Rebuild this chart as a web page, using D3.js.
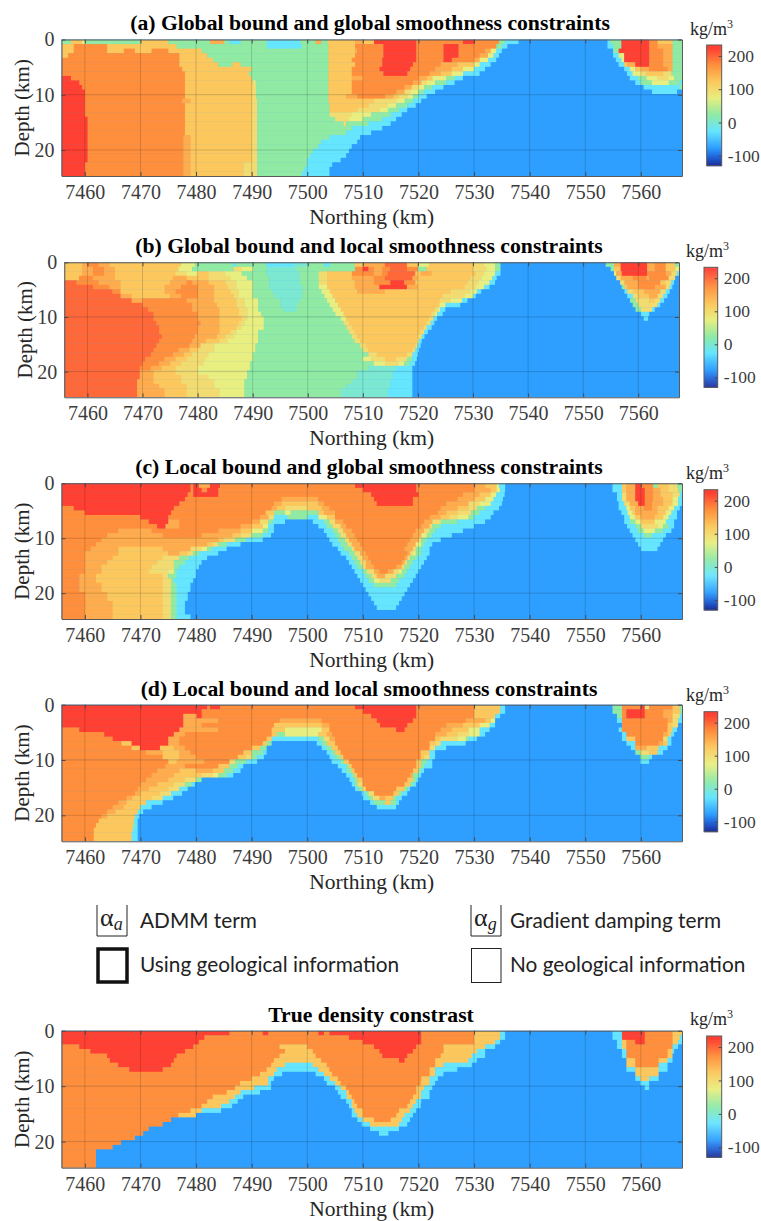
<!DOCTYPE html>
<html>
<head>
<meta charset="utf-8">
<script src="https://cdn.jsdelivr.net/npm/d3@7"></script>
<style>
  html, body { margin: 0; background: #fff; }
  svg { display: block; }
  text { font-family: "Liberation Serif", serif; }
</style>
</head>
<body>
<div id="chart"></div>
<script>
// tick labels
const northingTicks = [7460, 7470, 7480, 7490, 7500, 7510, 7520, 7530, 7540, 7550, 7560];
const depthTicks = [0, 10, 20];
const barTicks = [-100, 0, 100, 200];

// density contrast (kg/m3) of each letter used in the rows below
const levelCodes = ["A", "B", "C", "D", "E", "F", "G", "H", "I", "J", "K", "L", "M"];
const levelValues = [-75, -50, -25, 0, 25, 50, 75, 100, 125, 150, 175, 200, 225];

// one string per depth row, top to bottom: letter + northing (minus 7400) where that value ends
const rowsA = [
  "E57.5 I59.5 G60 E70 I75 E82.5 J85 E86 C88 E92.7 C98.7 E101.5 J102.5 E103.7 I108.6 J110 I112 M119.6 K128 M130 K134.5 E135.5 C138 A154 C154.5 E156.5 M161.5 K163 I165.7 E168",
  "I58 K64 I76.5 E92.7 C99 E103.8 I108.6 K113.7 M119.6 K124.5 M127.2 K134 E135 C136 A154 C155 E156.5 M161.5 K163 J165.7 E168",
  "I58 K64 I67 K69 I72 K75 I81 E103.8 I108.6 J109 K113.7 M119.6 K124.5 M127.2 K132 J133 G134 C135 A155 E156 M161.5 K164 J165.7 E168",
  "I57 K77 I82 E103.8 I108.6 K113.7 M119.6 K124.5 M127.2 K131 J132.5 G133.5 C134.5 A155 C156 G157 M161.5 K164 J165.7 E168",
  "K77 I83 E103.8 I108 K113.5 M119.6 K124.5 M126 K130 J131 G132.5 C134 A155.5 C156.5 G157 M161.5 K164 J165.7 E168",
  "K77 I84 E86.5 I88 E103.8 I108.6 K113.5 M119 K124 J127 I130 G131 C133 A156 C157 I157.5 J159 M161.5 K164 J165.7 E168",
  "K77.5 I90 E103.8 I108 K113 M118.5 K123 J126 I128 G130 C132 A157 C158 G159 I160 J161.5 K164.8 J165.7 E168",
  "K78 I89.5 E103.8 I108 K113.7 M118 K122 J124 I126 G128 C131 A157.5 C158.5 G160 H161 I164 H165.5 E168",
  "M57.5 K78 I90 E103.8 I108 J110 K120 J121.5 I122.5 G125 E126.5 C128 A158 C159.5 E161 G163 H165 G166 E168",
  "M59 K78 I90.3 G90.7 E103.8 I108 K119 J120.5 H121.5 G123 E125 C126.5 A159 C160 E162 G165 E167 C168",
  "M59.5 K78 I90 H90.8 E103.8 I108 K117.5 J118.8 H120 G121 E122.5 C124.5 A160.5 C167 E168",
  "M60 K78 I90 H90.8 E103.8 I108 K116 J117.5 H118.5 G120 E121 C123 A162 C166.5 A168",
  "M60 K78 I90 H90.8 E103.8 I107 J109 K114 J115.5 I116.5 H118 G119 E120 C121.5 A168",
  "M60 K77.5 J79 I90 H91 E103.8 I112 H116 G117.5 E119 C120.5 A168",
  "M60 K78 I90 H91 E104 I111 H114.5 G116 E118 C119.5 A168",
  "M60 K78 I90 H91 E104 I109 H113 G114.5 E116.5 C118 A168",
  "M60 K78 I90 H91 E104 H108 G111.5 E115 C117 A168",
  "M60.5 K78 I90 H91 E105 H107.5 G110 E113.5 C116 A168",
  "M60.5 K78 I90 H91 E106.5 H107 E111 C115 A168",
  "M60.5 K78 I90 H91 E108 C113.5 A168",
  "M60.5 K78 I90 H91 E107 C111.5 A168",
  "M60.5 K77.7 J79 I90 H91 E104 C109.5 A168",
  "M60.5 K77.7 J79 I90 H91 E102.5 C109 A168",
  "M60.5 K77.7 J79 I90 H91 E102 C108 A168",
  "M60.5 K77.7 J79 I90 H91 E101 C107.5 A168",
  "M60.5 K77.7 J79 I90 H91 E100.5 C107 A168",
  "M60.5 K77.7 J79 I90 H91 E100 C106 A168",
  "M60 K77.7 J79 I88.5 H91 E100 C104.5 A168",
  "M60 K77.7 J79 I88.5 H91 E99.5 C104 A168",
  "M60 K77.7 J79 I88.5 H91 E99 C104 A168"
];

const rowsB = [
  "I59 J60 K62 J64 I77 G79.5 E86.5 C87 E92.5 C97.5 D100 E103 C104 E108.5 I110 J114 L118 I120 G122 I130 H132 G134 E135 A154.1 E155.6 J156.8 M161.6 J163 K165 I166.7 E168",
  "I59 J61 K63 J65 I76.5 G79 E86.5 H88 G90 E92.5 D98 E108.6 K110 M111 K112 J113.5 K115 L118 K120 E121.5 I130 H132.5 G134 E135 A155 E155.6 I156.8 M161.6 J163 K165 I166.7 G168",
  "I59 J61 K63 J65 I76 H78 G80 I82 H85 G88 E92.5 D98.5 E102 H103.5 I108 K112 J113.5 K114.5 L119.5 I120.5 J122.5 I130.5 H132 G134 C135 A155.6 G156 J157 M161.6 K165 J166 H167 C168",
  "I58.5 K61 J65 I75.5 J78 I82 H86 G89 E93 D98.5 E102 H103.5 I108 J112 K114 L119 J120 I129.5 H131.5 G133.5 C134.3 A156 H156.8 J159 K161.5 J162 K165.5 H166.7 A168",
  "L58 K62 J66 I75 J78 K79 J82 I85 H87 G90 E93 D98.5 E102 H103.5 I108.5 J112 K115 M117.5 K119.5 I129 H131 G133 C134 A156.7 H157.5 J160 K164 I165 H166 C166.5 A168",
  "L61 K64 J66 I74 J77 K80 J83 I85.5 H87 G90 E93 D99 E102 G103.5 I108.5 J113 M118 J120 I128.5 H130.5 G132 C133 A157 E157.5 I158 J160 K163 J165 H165.7 C166.2 A168",
  "L64.5 K66 I74 J76 K80 J83 I86 H87.5 G90 E93.5 D99 E102.5 G104 I109 J114 I126 H129.5 G130.7 C131.5 A157.5 C158 H159 I161 J164 H165 C165.7 A168",
  "L66 J68 I75 J77 K80 J83 I86.5 H87.5 G90 E94 D99 E103 G104.5 I124.5 H128.5 G130 C130.5 A158 C159 H160 I162 J163.5 H164.5 C165.3 A168",
  "L68 J70 K78 J83 I87 H88.5 G91 E95 D98.5 E103.5 G105 I124 H126 G128 C129 A158.5 E159.5 H162 I163 H164 C164.7 A168",
  "L70 K79 J83.5 I87 H88.5 G91 E95 D98 E104 G105.5 I123.7 H124 G125 C127.7 A159 E160 H163.5 C164 A168",
  "L71 K79 J84 I87.5 H89 G91 E95.5 D98 E104.5 G106 I123 H123.5 G124 C125 A159.5 E160.5 H162.5 C163 A168",
  "L72 K80 J84 I87.5 H89 G91.5 E105 G106.5 I122.5 H123 G123.5 C124.5 A160.5 C162 A168",
  "L72 K80 J84 I88 H89 G92 E106 G107 I122 H122.8 C123.5 A161 C161.8 A168",
  "L72.5 K80.5 J84 I87.5 H88.5 G92 E106.5 H107.5 I121.5 H122.3 C123 A168",
  "L73 K80 J84 I87 H88 G92 E107 H108 I121 H121.6 C122.5 A168",
  "L73 K80 J84 I86 H87 G91 E107.5 H108.5 I120.5 H121.1 C121.8 A168",
  "L73.5 K79.5 J83.5 I85 H86.5 G91 E108 H109 I120 H120.7 C121.2 A168",
  "L73 K79 J81.5 I84 H85.5 G91 E108.5 H109.5 I119.8 H120.2 C120.7 A168",
  "L72.5 K78.5 J80.5 H83 G90.5 E109.5 H110.5 I119.5 H119.9 C120.5 A168",
  "L72 K76.5 J78.5 I80 H83 G90.5 E110 H111 I119 H119.5 C120.2 A168",
  "L71.5 K75.5 J77.5 I79 H82 G90 E111 H112.5 I118 H119 C120 A168",
  "L70.5 K74 J76 I78 H81.5 G90 E110 G111.5 H114 I116 H118 E119 C119.8 A168",
  "L70 K73 J75 I77 H81 G89.5 E112 G114 H116.5 G117.5 E118.5 C119.5 A168",
  "L69.5 K71.5 J73.5 I76 H80 G89.5 E111 D116 C119 A168",
  "L69.5 J72 I76 H80 G89 E109 D115.5 C119 A168",
  "L69.5 J72 I77 H82 G89 E109 D115.5 C119 A168",
  "L69 J72 I77 H83 G88.5 E108 D115 C119 A168",
  "L69 J73 I78 H83 G88.5 E107 D115 C119 A168",
  "L69 J74 I78 H84 G88.5 E106 D114.5 C119 A168",
  "L69 J74 I78 H84 G88.5 E106 D114.5 C119 A168"
];

const rowsC = [
  "M79 K79.5 M80.5 J82.5 M84.3 K108.6 M119.6 K130 J132 I134 G134.5 C135.6 A154.9 C156.6 I157.4 J159 M160 K162.2 E163 I165 H166.5 E168",
  "M79 K79.5 M81 K82 M84 K110 M119.6 K130 J133 I134 G134.7 C135.6 A154.9 C156.6 I157.4 J159 M160.7 K162.2 J163.5 I165 H166.7 E168",
  "M78.5 K79.5 M84 K111.5 M120 K128 J131 I133 G134 C135.5 A155.7 C156.6 H157.4 J159 M160.7 K162.2 J163.5 I165.7 H167 C168",
  "M78 K95.4 J102 K112 M119 K127 J130 I132 G133.5 C135.2 A155.7 C156.6 H157.4 J159 M160.7 K162.2 J164 I165.7 G166.7 C168",
  "M77 K94 J95.4 I102 J103 K112.5 M119 K125 J129 H131 G133 C135 A156 C157 H158 J159.5 M160.7 K162 J164 I165.7 G166.7 C168",
  "K58 M76 K93.6 J94.5 I96 H100 I102.6 J104 K124 J127 I129 H130.5 E132 C134.5 A156 C157.4 G158 I159 J160.5 K162 J163 I165 G166 C167 A168",
  "K60 M75.5 K92.5 I94 E96 G97 E102 I103 J105 K123.5 J125 I127 H129.5 E131 C133.5 A156.5 C157.6 G158.5 I159 J163 I164.5 G165.5 C166.5 A168",
  "K70 M75 K91.5 J93 H94 C96.5 E100 C102 G103.5 I105 K122 J124 I125.5 H127 G129 E130 C133 A157 C158 G159 I160 J162.5 I164 G165 C166.5 A168",
  "K71.5 M75 J77 K90 J91.5 H93 E93.8 C96 A101 C103 E104 H105 J106.5 K121 J122.5 H124 E127 C132 A157 C158 E159 G160 I162.5 G164.5 C166 A168",
  "K73 M74.5 J77 K88 J90 I92 G93 C94 A102 C103.5 E104.5 H106 J107 K120.5 J122 H122.5 E124 C130 A157.5 C159 E160 H163 G164 E165 C166 A168",
  "K66 J72 K84 J88 I90 G92 E93 C94 A103 C104.5 E105.5 H106.5 J108 K119.5 J121 H122 E123 C128 A158 C159.5 E160.5 G162.5 E164 C165.5 A168",
  "K64 J74 K81 J86.5 I88 H90 E92 C93.5 A103.5 C105 E106 H107 J108.5 K119 J120.5 G121.5 E122.5 C126 A158.5 C160.5 E162 C164.5 A168",
  "K63 J78 J84 I85 H87 E89 C92 A104 C105.5 E106.8 H107.5 J109 K118.5 J120 H120.5 E121.5 C124 A159 C164 A168",
  "K62 J80 J82 I83 H84 E85.5 C88 A104.5 C106 E107.2 H108 J109.5 K118 J119.5 G120.5 E121 C122.5 A159.5 C163.5 A168",
  "K61 J66 I74 J79 H81 G82 E82.8 C85.5 A105.5 C106.5 E108 H108.5 J110 K117.5 J119 H119.5 E120.5 C122 A160 C163 A168",
  "K60 J66 I75 J77 I78.5 H79.5 E80.5 C84 A106 C107.5 E108.5 H109.5 J110.5 K118 J118.5 H119 G119.5 E120.5 C122 A168",
  "K60 J65 I74 H77 E78.8 C82 A107 C108 E109 H110 J111 K117.5 J118 H118.5 E119.7 C121.5 A168",
  "K60 J64 I73 H76 E78 C81 A107.5 C108.5 E109.5 H110.5 J111.5 K117 J117.5 H118 E119 C121 A168",
  "K60 J63 I72 H76 E77 C80.5 A108 C109 E110 H110.5 J112 K116 J117 H117.5 E118.5 C120.5 A168",
  "K60 J63 I71.5 H75 G76 E76.5 C80 A108.5 C110 E110.7 H112 J113 K114.5 J115.5 H116.5 G117 E118 C120 A168",
  "K59 J62 I74 H75 E76.5 C80 A109 C110.5 E111.5 H112.5 J114 H116 E117.5 C119.5 A168",
  "K59 J62 I74 H75.5 E76 C79.5 A109.5 C111 E112 G113 H115 E116.5 C119 A168",
  "K59 J63 I74 H75.5 E76.5 C79 A110 C112 E116 C118.5 A168",
  "K59 J63 I74 H75.5 E76.5 C79 A110.5 C118 A168",
  "K60 J64 I74 H75.5 E76.5 C78.5 A111 C117.5 A168",
  "K60 J64 I74 H75.5 E76.5 C78.5 A111.5 C117 A168",
  "K60 J65 I74 H75.5 E76.5 C78 A112 C116.5 A168",
  "K60 J65 I74 H75.5 E76.5 C78 A112.5 C116 A168",
  "K60 J65 I74 H75.5 E76.5 C78 A168",
  "K60 J65 I74 H75.5 E76.5 C79 A168"
];

const rowsD = [
  "M82 K82.5 M84.3 K108.6 M119.6 K130 I134.7 C135.6 A154.9 E156.6 K159.9 M160.7 H161.5 K165.7 I167 E168",
  "M81 K110 M119.6 K130 I134.7 C135.6 A154.9 E156.6 K157.4 M160.7 K164 J165.7 I167 E168",
  "M77.7 J80.1 M81 K111.5 M119.6 K130 I133.8 C134.7 A155.7 E156.6 K157.4 M160.7 K164 J165.7 H167 C168",
  "M77.7 J84 K95 J102.6 K112.5 M119 K128.5 J132 I133 G133.8 A155.7 C156.6 K164.8 J165.7 H166.7 C167.5 A168",
  "M77.7 J81 K94 I102.6 J104 K113.1 M118 K125 J128 I131 G132.8 C133.8 A156.6 K164.8 I165.7 H166.7 A168",
  "K59 M77 J84 K93.6 I96 G102.6 I104 K116 M117.5 K124 J126 I129 G131 C132.8 A156 C156.6 K164.8 I165.7 C166.5 A168",
  "K63.5 M76 J78 K93.6 I94.5 E96 G102 I103.5 J104.5 K123 J125 I127 H129 G131 C132 A156.6 C157.4 K164 J164.8 I165.4 C166 A168",
  "K65 M75 J77 K92.7 I93.6 C102 E103 H104 J105 K123 I124 H127 G128.5 E129 C130.5 A156.6 C157.4 I159 K164 H164.8 C165.5 A168",
  "K66.6 I68.4 M75 J77 K92 I92.7 E93.6 A101.7 C102.6 E103.5 I105 K122 I123 H124 C128.5 A157.4 C159 K163.2 J164 I164.8 C165.5 A168",
  "K68.4 I69.9 M73.5 I76 J78 K90 I91.5 E92.7 A102.6 C103.5 E104.4 I105.5 K122 H123 C125 A158.2 C159 J161 I163.2 C164.8 A168",
  "K71 J74 I77 J79 K88.5 I90 E92 C92.7 A103.5 C104.4 E105 I106 K120.4 I122 C123 A159 E159.9 H161.5 I163 C164 A168",
  "K74 I77 J80 K87.5 I89 H90 E91 C92.2 A104 C105 E106 I106.5 K120.4 I121 H122 C123 A159.9 E161.5 C162 A168",
  "K75 I76.5 J81.5 K86 H87 E89 C91 A104.4 C106 E106.6 I107.5 K119.6 I120.5 E121.5 C122.5 A159.9 C161.5 A168",
  "K74.5 J78 K84 I86 E87.5 C88.5 A105.5 C107 E107.5 I108 K119.6 I120.4 E121 C122.5 A168",
  "K73 J77 I80 J83 I85 E86.7 C88 A106.2 C107.1 E108 I108.5 K119 I120 E120.4 C121 A168",
  "K72 J76 I81 H83 G84 E85.5 C86.7 A107 C108 E108.5 I109 K118.5 J119 E120 C120.5 A168",
  "K71 J75 I78 H80 E81 A107.6 C108.4 E109 I110 K118 I119 E119.6 C120 A168",
  "K70 J73 I76 H78 E79.2 C79.8 A108 C108.6 E109 H110 K117.5 I118.5 E119 C119.6 A168",
  "K69.5 J71.5 I75 H77 C78.5 A108.6 C109.2 E109.8 H110.5 K116 I117.5 E118 C118.5 A168",
  "K69 J70 I73.5 H75.5 C77.5 A109.8 C110.5 E111 H112 K115.5 I116.5 E117 C118 A168",
  "K67.5 J68.5 I72 H74 C75.9 A110 C111 E111.8 H113 J114 I115.5 E116 C117 A168",
  "K66 J67.5 I71 C74 A111.3 C112 E114 I115 E116 C116.5 A168",
  "K65 J67 I70 C72 A112.5 C116 A168",
  "K64 J65.5 I69.5 C70.5 A168",
  "K63 J64 I69 C69.8 A168",
  "K62.5 I68.8 C69.5 A168",
  "K62 I68.6 E69 C69.5 A168",
  "K61.6 I68.6 C69.5 A168",
  "K61.6 I68.4 C69.5 A168",
  "K61.6 I68.4 C69.5 A168"
];

const rowsTrue = [
  "M86 K92 M93 K102 M103 K104 M120.5 K130 I134.7 C135.6 A154.9 C156.6 M160.7 K165.7 I168",
  "M81.5 K107.5 M120.5 K130 I134.7 C135.6 A154.9 C156.6 M160.7 K165.7 I167 C168",
  "M80.5 K110 M120.5 K130 I133.8 C134.7 A155.7 C156.6 I157.4 K159 M160.7 K165.7 I166.7 C167.5 A168",
  "K59 M79.5 K95 I100 K112 M119.6 K124.5 I132 C133.8 A155.7 C156.6 I157.4 K165.7 C166.7 A168",
  "K61 M78 K96 I101 K113 M119 K124.5 I130.5 C132 A156.6 C157.4 K164.8 I165.7 C166 A168",
  "K64 M76.5 K95 I101.5 K113.5 M118 K124 I129.6 C132 A156.6 C157.4 K164.8 I165.7 A168",
  "K64.5 M76 K94 I102.5 K116.5 M117.5 K123 I129 C130.5 A157.4 I159 K163.2 I164.8 C165.7 A168",
  "K66 M75.5 K93.5 I96 C101 I103.5 K123 I124.5 C129.6 A157.4 I159 K163.2 C164.8 A168",
  "K68 M74 K92.7 I94.5 C102 I104 K122 I123 C127 A157.4 C159 I163.2 C164.8 A168",
  "K91.5 I94 C95.5 A101.5 C103 I104.5 K122 I123 C124.5 A159 I163.2 A168",
  "K90 I93 C94 A103 C104 I105.5 K120.5 I122 C123.5 A159 C159.9 I161.5 C163.2 A168",
  "K87.9 I93 C93.5 A103.5 C105 I106 K120.4 I122 C123 A159.9 C161.5 A168",
  "K87 I90.5 C93.5 A105 C106 I107 K119.6 I121 C122.5 A160.7 C161.5 A168",
  "K85.5 I88 C91.5 A105.5 C107 I107.5 K119.6 I120.5 C122 A168",
  "K83 I87 C88.5 A106 C107.1 I108 K119 I120.4 C122 A168",
  "K82 I86 C87.5 A107 C108 I108.5 K118.5 I119.6 C120.5 A168",
  "K81 I84.5 C86.5 A107.5 C108 I109 K118 I119 C120.4 A168",
  "K79 I81 C84.5 A108 C108.5 I110 K116.5 I118.5 C119.6 A168",
  "K76.8 I80 A108 C109 I110 K116 I117.5 C119 A168",
  "K75.5 A109 C110 I112 K115 I117 C118.5 A168",
  "K74 A109.8 C111.3 I116.5 C118 A168",
  "K71.5 A111.3 C116.5 A168",
  "K70.5 A112.9 C114.6 A168",
  "K69 A168",
  "K66.5 A168",
  "K65 A168",
  "K62 A168",
  "K62 A168",
  "K62 A168",
  "K62 A168"
];

const titles = [
  "(a) Global bound and global smoothness constraints",
  "(b) Global bound and local smoothness constraints",
  "(c) Local bound and global smoothness constraints",
  "(d) Local bound and local smoothness constraints",
  "True density constrast"
];
const panelRows = [rowsA, rowsB, rowsC, rowsD, rowsTrue];

// layout of the five panels
const layout = [
  { left: 61.5, right: 682, top: 39.5, bottom: 176, titleY: 30, titleX: 370, depthX: 29, barL: 706.7, barR: 721.7, barT: 45, barB: 165.7, unitX: 690, unitY: 35 },
  { left: 64.3, right: 679, top: 262.3, bottom: 397.3, titleY: 253, titleX: 369, depthX: 31.5, barL: 704, barR: 717.7, barT: 267.3, barB: 387.3, unitX: 686, unitY: 257 },
  { left: 61.5, right: 682, top: 483.3, bottom: 619, titleY: 474, titleX: 369, depthX: 29, barL: 704, barR: 717.7, barT: 489.7, barB: 610, unitX: 686, unitY: 479 },
  { left: 61.5, right: 682, top: 704.7, bottom: 841.3, titleY: 696, titleX: 369, depthX: 29, barL: 704, barR: 717.7, barT: 711.7, barB: 831.7, unitX: 686, unitY: 701 },
  { left: 61.5, right: 682, top: 1030.7, bottom: 1167.7, titleY: 1022, titleX: 371, depthX: 29, barL: 706.7, barR: 721.7, barT: 1036, barB: 1157.3, unitX: 690, unitY: 1025 }
];

const northingDomain = [7455.8, 7567.4];
const depthMax = 24.7;
const barDomain = [-130, 233];

const color = d3.scaleLinear()
  .domain([-130, -100, -75, -25, 25, 75, 125, 175, 225])
  .range(["#1b2a96", "#2168dc", "#2e9fff", "#66e5ff", "#90eaa4", "#e8ee80", "#fcc85d", "#ff8f3c", "#ff4033"])
  .clamp(true);

const levelOf = new Map(levelCodes.map((c, i) => [c, levelValues[i]]));

const svg = d3.select("#chart").append("svg").attr("width", 761).attr("height", 1221);
const defs = svg.append("defs");
defs.append("filter").attr("id", "soft")
  .attr("x", "-2%").attr("y", "-2%").attr("width", "104%").attr("height", "104%")
  .append("feGaussianBlur").attr("stdDeviation", 0.55);

function parseRows(rows) {
  const runs = [];
  rows.forEach((row, i) => {
    let start = northingDomain[0];
    row.split(" ").forEach(tok => {
      const end = 7400 + (+tok.slice(1));
      runs.push({ row: i, x0: start, x1: end, value: levelOf.get(tok[0]) });
      start = end;
    });
  });
  return runs;
}

layout.forEach((p, idx) => {
  const x = d3.scaleLinear().domain(northingDomain).range([p.left, p.right]).clamp(true);
  const y = d3.scaleLinear().domain([0, depthMax]).range([p.top, p.bottom]);
  const rowKm = depthMax / panelRows[idx].length;
  const g = svg.append("g");

  defs.append("clipPath").attr("id", "clip" + idx).append("rect")
    .attr("x", p.left).attr("y", p.top)
    .attr("width", p.right - p.left).attr("height", p.bottom - p.top);

  // heat map cells
  g.append("rect")
    .attr("x", p.left).attr("y", p.top)
    .attr("width", p.right - p.left).attr("height", p.bottom - p.top)
    .attr("fill", "#2e9fff");
  g.append("g").attr("clip-path", `url(#clip${idx})`)
    .append("g").attr("filter", "url(#soft)")
    .selectAll("rect")
    .data(parseRows(panelRows[idx]))
    .join("rect")
    .attr("x", d => x(d.x0))
    .attr("y", d => y(d.row * rowKm))
    .attr("width", d => x(d.x1) - x(d.x0) + 0.4)
    .attr("height", y(rowKm) - y(0) + 0.4)
    .attr("fill", d => color(d.value));

  // grid
  const grid = g.append("g").attr("class", "grid");
  grid.selectAll(".gx").data(northingTicks).join("line").attr("class", "gx")
    .attr("x1", d => x(d)).attr("x2", d => x(d)).attr("y1", p.top).attr("y2", p.bottom);
  grid.selectAll(".gy").data(depthTicks.slice(1)).join("line").attr("class", "gy")
    .attr("x1", p.left).attr("x2", p.right).attr("y1", d => y(d)).attr("y2", d => y(d));
  grid.selectAll("line").attr("stroke", "#000").attr("stroke-opacity", 0.16).attr("stroke-width", 1);

  // axes, MATLAB box style with inward ticks
  const tickStyle = sel => {
    sel.select(".domain").attr("stroke", "#5a5a5a").attr("stroke-width", 1);
    sel.selectAll(".tick line").attr("stroke", "#4a4a4a");
  };
  g.append("g").attr("transform", `translate(0,${p.bottom})`)
    .call(d3.axisBottom(x).tickValues(northingTicks).tickFormat(d3.format("d")).tickSizeInner(-4).tickSizeOuter(0).tickPadding(9))
    .call(tickStyle)
    .call(a => a.selectAll("text").attr("font-size", 20).attr("fill", "#3c3c3c").attr("font-family", "Liberation Serif"));
  g.append("g").attr("transform", `translate(0,${p.top})`)
    .call(d3.axisTop(x).tickValues(northingTicks).tickFormat("").tickSizeInner(-4).tickSizeOuter(0))
    .call(tickStyle);
  g.append("g").attr("transform", `translate(${p.left},0)`)
    .call(d3.axisLeft(y).tickValues(depthTicks).tickSizeInner(-4).tickSizeOuter(0).tickPadding(7))
    .call(tickStyle)
    .call(a => a.selectAll("text").attr("font-size", 20).attr("fill", "#3c3c3c").attr("font-family", "Liberation Serif"));
  g.append("g").attr("transform", `translate(${p.right},0)`)
    .call(d3.axisRight(y).tickValues(depthTicks).tickFormat("").tickSizeInner(-4).tickSizeOuter(0))
    .call(tickStyle);

  // titles and axis labels
  g.append("text").attr("x", p.titleX).attr("y", p.titleY)
    .attr("text-anchor", "middle").attr("font-weight", "bold").attr("font-size", 21.7).attr("fill", "#000")
    .text(titles[idx]);
  g.append("text").attr("x", (p.left + p.right) / 2).attr("y", p.bottom + 48)
    .attr("text-anchor", "middle").attr("font-size", 21.5).attr("fill", "#262626")
    .text("Northing (km)");
  g.append("text")
    .attr("transform", `translate(${p.depthX},${(p.top + p.bottom) / 2}) rotate(-90)`)
    .attr("text-anchor", "middle").attr("font-size", 21).attr("fill", "#262626")
    .text("Depth (km)");

  // colour bar
  const bar = d3.scaleLinear().domain(barDomain).range([p.barB, p.barT]);
  g.append("g").selectAll("rect")
    .data(d3.range(barDomain[0], barDomain[1], 3))
    .join("rect")
    .attr("x", p.barL).attr("width", p.barR - p.barL)
    .attr("y", d => bar(d + 3)).attr("height", d => bar(d) - bar(d + 3) + 0.5)
    .attr("fill", d => color(d + 1.5));
  g.append("rect").attr("x", p.barL).attr("y", p.barT)
    .attr("width", p.barR - p.barL).attr("height", p.barB - p.barT)
    .attr("fill", "none").attr("stroke", "#5a5a5a");
  g.append("g").attr("transform", `translate(${p.barR},0)`)
    .call(d3.axisRight(bar).tickValues(barTicks).tickFormat(d => String(d)).tickSizeInner(-3).tickSizeOuter(0).tickPadding(6))
    .call(a => a.select(".domain").remove())
    .call(a => a.selectAll(".tick line").attr("stroke", "#4a4a4a"))
    .call(a => a.selectAll("text").attr("font-size", 17.5).attr("fill", "#3c3c3c").attr("font-family", "Liberation Serif"));

  const unit = g.append("text").attr("x", p.unitX).attr("y", p.unitY).attr("font-size", 18).attr("fill", "#262626");
  unit.append("tspan").text("kg/m");
  unit.append("tspan").attr("dy", -7).attr("font-size", 12).text("3");
});

// legend
const legendFont = "Lato, 'Open Sans', sans-serif";
const legend = svg.append("g");
[[97, "a", "ADMM term", 140], [471, "g", "Gradient damping term", 510]].forEach(([bx, sub, label, tx]) => {
  legend.append("path")
    .attr("d", `M${bx},905V936H${bx + 30}V905`)
    .attr("fill", "none").attr("stroke", "#222").attr("stroke-width", 1);
  const t = legend.append("text").attr("x", bx + 3).attr("y", 926).attr("font-size", 26).attr("fill", "#222");
  t.append("tspan").text("α");
  t.append("tspan").attr("font-size", 18).attr("font-style", "italic").attr("dy", 4).text(sub);
  legend.append("text").attr("x", tx).attr("y", 928).attr("font-size", 20.8).attr("fill", "#222")
    .style("font-family", legendFont).text(label);
});
legend.append("rect").attr("x", 98).attr("y", 949).attr("width", 29).attr("height", 33)
  .attr("fill", "none").attr("stroke", "#111").attr("stroke-width", 3.5);
legend.append("rect").attr("x", 471.5).attr("y", 948.5).attr("width", 29.5).attr("height", 34)
  .attr("fill", "none").attr("stroke", "#222").attr("stroke-width", 1);
legend.append("text").attr("x", 140).attr("y", 972).attr("font-size", 20.8).attr("fill", "#222")
  .style("font-family", legendFont).text("Using geological information");
legend.append("text").attr("x", 510).attr("y", 972).attr("font-size", 20.8).attr("fill", "#222")
  .style("font-family", legendFont).text("No geological information");
</script>
</body>
</html>
